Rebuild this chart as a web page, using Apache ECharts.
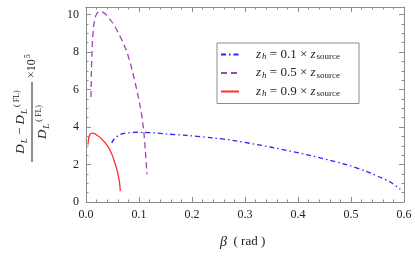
<!DOCTYPE html>
<html><head><meta charset="utf-8">
<script src="https://cdn.jsdelivr.net/npm/echarts@6/dist/echarts.min.js"></script>
<style>html,body{margin:0;padding:0;background:#fff}#c{width:415px;height:259px}</style>
</head><body><div id="c"></div>
<script>
// Data
var xTicks = [0.0, 0.1, 0.2, 0.3, 0.4, 0.5, 0.6];
var yTicks = [0, 2, 4, 6, 8, 10];
var seriesNames = ['z01', 'z05', 'z09'];
var blueX = [0.0485, 0.052, 0.058, 0.064, 0.070, 0.080, 0.090, 0.100, 0.110, 0.130, 0.150, 0.190, 0.240, 0.280, 0.350, 0.420, 0.490, 0.530, 0.555, 0.575, 0.593];
var blueY = [3.15, 3.32, 3.48, 3.59, 3.65, 3.69, 3.71, 3.72, 3.71, 3.68, 3.63, 3.55, 3.42, 3.27, 2.92, 2.50, 2.00, 1.62, 1.32, 1.05, 0.68];
var purpleX = [0.0094, 0.0102, 0.0113, 0.0128, 0.0145, 0.0175, 0.0208, 0.0240, 0.0270, 0.0330, 0.0396, 0.0470, 0.0553, 0.0630, 0.0711, 0.0780, 0.0836, 0.0885, 0.0930, 0.0980, 0.1025, 0.1060, 0.1089, 0.1120, 0.1151];
var purpleY = [5.60, 6.95, 8.07, 8.85, 9.41, 9.85, 10.07, 10.14, 10.16, 10.10, 9.95, 9.68, 9.32, 8.90, 8.43, 7.93, 7.40, 6.88, 6.32, 5.70, 5.04, 4.45, 3.80, 2.75, 1.48];
var redX = [0.0038, 0.0050, 0.0070, 0.0090, 0.0113, 0.0140, 0.0176, 0.0230, 0.0300, 0.0360, 0.0428, 0.0490, 0.0553, 0.0590, 0.0617, 0.0635, 0.0647];
var redY = [3.05, 3.40, 3.58, 3.65, 3.67, 3.66, 3.62, 3.52, 3.35, 3.16, 2.90, 2.53, 2.01, 1.65, 1.30, 0.98, 0.58];

function zip(xs, ys){ return xs.map(function(x,i){ return [x, ys[i]]; }); }

var serif = 'Liberation Serif';
var frameColor = '#8c8c8c';
var labelColor = '#222';

function xAxisCfg(pos, showLabel){
  return {
    type: 'value', position: pos, min: 0, max: 0.6, interval: 0.1,
    axisLine: {show: true, onZero: false, lineStyle: {color: frameColor, width: 1}},
    axisTick: {show: true, inside: true, length: 5, lineStyle: {color: frameColor}},
    minorTick: {show: true, splitNumber: 5, length: 2.5, lineStyle: {color: frameColor}},
    splitLine: {show: false}, minorSplitLine: {show: false},
    axisLabel: {show: showLabel, margin: 7, color: labelColor, fontFamily: serif, fontSize: 12,
      formatter: function(v){ return v.toFixed(1); }}
  };
}
function yAxisCfg(pos, showLabel){
  return {
    type: 'value', position: pos, min: 0, max: 10.4, interval: 2,
    axisLine: {show: true, onZero: false, lineStyle: {color: frameColor, width: 1}},
    axisTick: {show: true, inside: true, length: 5, lineStyle: {color: frameColor}},
    minorTick: {show: true, splitNumber: 4, length: 2.5, lineStyle: {color: frameColor}},
    splitLine: {show: false}, minorSplitLine: {show: false},
    axisLabel: {show: showLabel, margin: 7, color: labelColor, fontFamily: serif, fontSize: 12,
      showMaxLabel: false,
      formatter: function(v){ return yTicks.indexOf(v) >= 0 ? String(v) : ''; }}
  };
}

var legendRich = {
  zi: {fontFamily: serif, fontStyle: 'italic', fontSize: 13, color: '#222'},
  sub: {fontFamily: serif, fontStyle: 'italic', fontSize: 9, color: '#222', verticalAlign: 'bottom', padding: [5,0,0,1]},
  t: {fontFamily: serif, fontSize: 13, color: '#222'},
  subr: {fontFamily: serif, fontSize: 9, color: '#222', verticalAlign: 'bottom', padding: [5,0,0,1]}
};
var legendText = {
  z01: '{zi|z}{sub|h}{t| = 0.1 × }{zi|z}{subr|source}',
  z05: '{zi|z}{sub|h}{t| = 0.5 × }{zi|z}{subr|source}',
  z09: '{zi|z}{sub|h}{t| = 0.9 × }{zi|z}{subr|source}'
};

var chart = echarts.init(document.getElementById('c'), null, {renderer: 'canvas'});
chart.setOption({
  animation: false,
  backgroundColor: '#fff',
  grid: {left: 86, right: 11, top: 7, bottom: 57, containLabel: false},
  xAxis: [xAxisCfg('bottom', true), xAxisCfg('top', false)],
  yAxis: [yAxisCfg('left', true), yAxisCfg('right', false)],
  legend: {
    orient: 'vertical', left: 217, top: 43,
    data: seriesNames,
    itemWidth: 18, itemHeight: 10, itemGap: 5,
    padding: [5, 19, 5, 3],
    borderColor: frameColor, borderWidth: 1, backgroundColor: '#fff',
    itemStyle: {color: 'rgba(0,0,0,0)', borderWidth: 0, opacity: 0},
    formatter: function(n){ return legendText[n]; },
    textStyle: {rich: legendRich, fontFamily: serif, fontSize: 13, padding: [0,0,0,12]}
  },
  series: [
    {name: 'z01', type: 'line', data: zip(blueX, blueY), showSymbol: false, symbol: 'none', smooth: 0.3,
      lineStyle: {color: '#2626ff', width: 1.3, type: [5, 3, 1.5, 3]}, itemStyle: {color: '#2626ff'}},
    {name: 'z05', type: 'line', data: zip(purpleX, purpleY), showSymbol: false, symbol: 'none', smooth: 0.3,
      lineStyle: {color: '#a440bc', width: 1.3, type: [6, 4]}, itemStyle: {color: '#a440bc'}},
    {name: 'z09', type: 'line', data: zip(redX, redY), showSymbol: false, symbol: 'none', smooth: 0.3,
      lineStyle: {color: '#ff3030', width: 1.3, type: 'solid'}, itemStyle: {color: '#ff3030'}}
  ],
  graphic: [
    {type: 'text', left: 220, top: 235,
      style: {text: '{b|β}{t|  ( rad )}', rich: {
        b: {fontFamily: serif, fontStyle: 'italic', fontSize: 14, fill: '#222'},
        t: {fontFamily: serif, fontSize: 13, fill: '#222'}}}},
    {type: 'group', x: 32, y: 122, rotation: Math.PI / 2, children: [
      {type: 'line', shape: {x1: -40, y1: 0, x2: 40, y2: 0}, style: {stroke: '#222', lineWidth: 1}},
      {type: 'text', style: {x: 0, y: -3, align: 'center', verticalAlign: 'bottom',
        text: '{d|D}{s|L}{t| − }{d|D}{s|L}{p|( FL)}',
        rich: {
          d: {fontFamily: serif, fontStyle: 'italic', fontSize: 13, fill: '#222'},
          s: {fontFamily: serif, fontStyle: 'italic', fontSize: 9, fill: '#222', verticalAlign: 'bottom', padding: [6,0,0,1]},
          t: {fontFamily: serif, fontSize: 13, fill: '#222'},
          p: {fontFamily: serif, fontSize: 8, fill: '#222', verticalAlign: 'top', padding: [0,0,8,2]}
        }}},
      {type: 'text', style: {x: 0, y: 3, align: 'center', verticalAlign: 'top',
        text: '{d|D}{s|L}{p|( FL)}',
        rich: {
          d: {fontFamily: serif, fontStyle: 'italic', fontSize: 13, fill: '#222'},
          s: {fontFamily: serif, fontStyle: 'italic', fontSize: 9, fill: '#222', verticalAlign: 'bottom', padding: [6,0,0,1]},
          p: {fontFamily: serif, fontSize: 8, fill: '#222', verticalAlign: 'top', padding: [0,0,8,2]}
        }}},
      {type: 'text', style: {x: 44, y: 0, align: 'left', verticalAlign: 'middle',
        text: '{t|×10}{p|5}',
        rich: {
          t: {fontFamily: serif, fontSize: 12, fill: '#222'},
          p: {fontFamily: serif, fontSize: 8, fill: '#222', verticalAlign: 'top', padding: [0,0,8,1]}
        }}}
    ]}
  ]
});
</script>
</body></html>
